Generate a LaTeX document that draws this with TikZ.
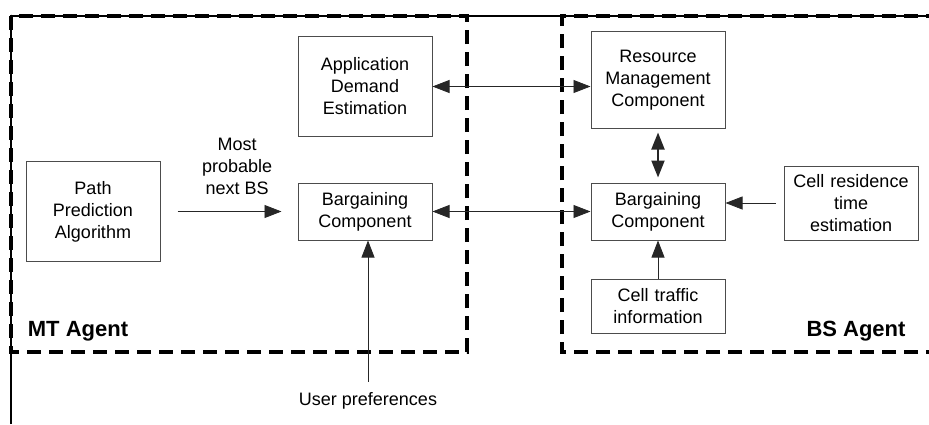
\documentclass[tikz,border=0pt]{standalone}
\usepackage{fontspec}
\setmainfont{Liberation Sans}
\usetikzlibrary{arrows.meta,positioning}

\begin{document}
\begin{tikzpicture}[x=1pt,y=1pt,node distance=20pt,
    block/.style={rectangle,draw=black!70,line width=0.5pt,text width=62pt,
                  align=center,inner xsep=2.5pt,inner ysep=2pt,
                  font=\fontsize{9}{11}\selectfont},
    arrow/.style={-{Triangle[length=8.5pt,width=6.5pt]},line width=0.4pt,draw=black!85},
    twoway/.style={{Triangle[length=8.5pt,width=6.5pt]}-{Triangle[length=8.5pt,width=6.5pt]},
                   line width=0.4pt,draw=black!85},
    agent/.style={line width=1.8pt,dash pattern=on 7pt off 4pt},
    agentlabel/.style={font=\bfseries\fontsize{11}{13}\selectfont},
    note/.style={align=center,font=\fontsize{9}{11}\selectfont}]
\useasboundingbox (0,0) rectangle (464.5,212);
% frame and agent areas
\draw[line width=1pt] (5.5,0) -- (5.5,204) -- (470,204);
\draw[agent] (5.5,204) rectangle (233.5,36);
\draw[agent] (470,36) -- (281,36) -- (281,204) -- (470,204);
% MT side
\node[block,minimum height=28.5pt] (bargmt) at (182.5,106.25) {Bargaining\\Component};
\node[block,minimum height=49.5pt,above=23pt of bargmt] (demand) {Application\\Demand\\Estimation};
\node[block,minimum height=50pt,left=68.5pt of bargmt] (path) {Path\\Prediction\\Algorithm};
% BS side
\node[block,minimum height=28.5pt,right=79pt of bargmt] (bargbs) {Bargaining\\Component};
\node[block,minimum height=48pt,above=27pt of bargbs] (resource) {Resource\\Management\\Component};
\node[block,minimum height=27pt,below=19pt of bargbs] (traffic) {Cell traffic\\information};
\node[block,minimum height=37pt,right=29pt of bargbs.south east,anchor=south west] (residence) {Cell residence\\time\\estimation};
% labels
\node[agentlabel] (mtlabel) at (39,46.5) {MT Agent};
\node[agentlabel] (bslabel) at (428,46.5) {BS Agent};
\node[note] (userpref) at (184,11.5) {User preferences};
% connectors
\draw[arrow,shorten <=8.5pt,shorten >=8pt] (path.east |- bargmt) -- (bargmt.west)
    node[note,pos=0.56,above=5pt] (nextbs) {Most\\probable\\next BS};
\draw[arrow,shorten <=2pt] (userpref.north) -- (userpref.north |- bargmt.south);
\draw[twoway] (demand.east) -- (demand.east -| resource.west);
\draw[twoway] (bargmt) -- (bargbs);
\draw[twoway,line width=1pt,shorten <=2pt,shorten >=2.5pt] (resource) -- (bargbs);
\draw[arrow,shorten <=4pt] (residence.west) -- (residence.west -| bargbs.east);
\draw[arrow] (traffic) -- (bargbs);
\end{tikzpicture}
\end{document}
